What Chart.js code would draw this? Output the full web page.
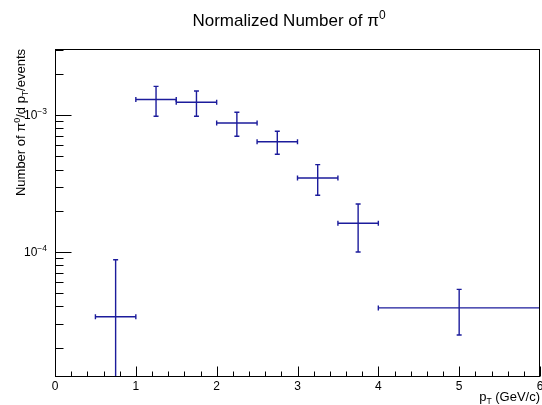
<!DOCTYPE html>
<html lang="en">
<head>
<meta charset="UTF-8" />
<title>Normalized Number of pi0</title>
<style>
  body { margin: 0; background: #fff; }
  .chart-container { width: 542px; height: 405px; position: relative; }
</style>
</head>
<body>
<div class="chart-container"><canvas id="pi0Chart"></canvas></div>
<script src="https://cdn.jsdelivr.net/npm/chart.js@4"></script>
<script>
// pT bins (GeV/c) and normalized pi0 yields
const ptCenters = [0.75, 1.25, 1.75, 2.25, 2.75, 3.25, 3.75, 5.0];
const ptHalfWidths = [0.25, 0.25, 0.25, 0.25, 0.25, 0.25, 0.25, 1.0];
const yields = [3.36e-5, 1.30e-3, 1.24e-3, 8.75e-4, 6.39e-4, 3.47e-4, 1.62e-4, 3.9e-5];
const yieldErrors = [5.4e-5, 3.2e-4, 2.6e-4, 1.75e-4, 1.22e-4, 8.75e-5, 6.2e-5, 1.43e-5];

const xMajorTicks = [0, 1, 2, 3, 4, 5, 6];
const yDecades = [-5, -4, -3];
const yLabelExps = [-4, -3];

const X_MIN = 0, X_MAX = 6;
const Y_MIN = 1.22e-5, Y_MAX = 3.04e-3;
const ERR_COLOR = "#1c1c9c";
const FONT = "'Liberation Sans', Arial, sans-serif";

// draw text pieces with super/subscripts; parts: [text, size, dy]
function richWidth(ctx, parts) {
  let w = 0;
  for (const p of parts) {
    ctx.font = p[1] + "px " + FONT;
    w += ctx.measureText(p[0]).width;
  }
  return w;
}
function drawRich(ctx, parts, x, y, align) {
  let w = richWidth(ctx, parts);
  let cx = x;
  if (align === "right") cx = x - w;
  else if (align === "center") cx = x - w / 2;
  ctx.textAlign = "left";
  ctx.textBaseline = "alphabetic";
  for (const p of parts) {
    ctx.font = p[1] + "px " + FONT;
    ctx.fillText(p[0], cx, y + p[2]);
    cx += ctx.measureText(p[0]).width;
  }
}

const errorBars = {
  id: "errorBars",
  afterDatasetsDraw(chart) {
    const ctx = chart.ctx;
    const xs = chart.scales.x, ys = chart.scales.y;
    const area = chart.chartArea;
    ctx.save();
    ctx.beginPath();
    ctx.rect(area.left, area.top, area.right - area.left, area.bottom - area.top);
    ctx.clip();
    ctx.strokeStyle = ERR_COLOR;
    ctx.lineWidth = 1.4;
    const cap = 2.5;
    for (let i = 0; i < ptCenters.length; i++) {
      const px = xs.getPixelForValue(ptCenters[i]);
      const py = ys.getPixelForValue(yields[i]);
      const xl = xs.getPixelForValue(ptCenters[i] - ptHalfWidths[i]);
      const xr = xs.getPixelForValue(ptCenters[i] + ptHalfWidths[i]);
      const hi = yields[i] + yieldErrors[i];
      const lo = yields[i] - yieldErrors[i];
      const yt = ys.getPixelForValue(hi);
      const yb = lo > 0 ? ys.getPixelForValue(lo) : area.bottom + 5;
      ctx.beginPath();
      ctx.moveTo(xl, py); ctx.lineTo(xr, py);
      ctx.moveTo(xl, py - cap); ctx.lineTo(xl, py + cap);
      ctx.moveTo(xr, py - cap); ctx.lineTo(xr, py + cap);
      ctx.moveTo(px, yt); ctx.lineTo(px, yb);
      ctx.moveTo(px - cap, yt); ctx.lineTo(px + cap, yt);
      if (lo > 0) { ctx.moveTo(px - cap, yb); ctx.lineTo(px + cap, yb); }
      ctx.stroke();
    }
    ctx.restore();
  },
  afterDraw(chart) {
    const ctx = chart.ctx;
    const xs = chart.scales.x, ys = chart.scales.y;
    const a = chart.chartArea;
    const L = Math.round(a.left) + 0.5, R = Math.round(a.right) - 0.5;
    const T = Math.round(a.top) + 0.5, B = Math.round(a.bottom) - 0.5;
    ctx.save();
    ctx.strokeStyle = "#000";
    ctx.fillStyle = "#000";
    ctx.lineWidth = 1;
    ctx.strokeRect(L, T, R - L, B - T);

    // x ticks inside the frame
    ctx.beginPath();
    for (let v = X_MIN; v <= X_MAX + 1e-9; v += 0.2) {
      const major = Math.abs(v - Math.round(v)) < 1e-6;
      const px = Math.round(xs.getPixelForValue(v)) + 0.5;
      ctx.moveTo(px, B);
      ctx.lineTo(px, B - (major ? 10 : 5));
    }
    // y ticks (log) inside the frame
    for (const d of yDecades) {
      for (let m = 1; m <= 9; m++) {
        const v = m * Math.pow(10, d);
        if (v < Y_MIN || v > Y_MAX) continue;
        const py = Math.round(ys.getPixelForValue(v)) + 0.5;
        ctx.moveTo(L, py);
        ctx.lineTo(L + (m === 1 ? 16 : 8), py);
      }
    }
    ctx.stroke();

    // x tick labels
    ctx.font = "12px " + FONT;
    ctx.textAlign = "center";
    ctx.textBaseline = "alphabetic";
    for (const v of xMajorTicks) {
      ctx.fillText(String(v), xs.getPixelForValue(v), 390);
    }
    // y tick labels 10^n
    for (const e of yLabelExps) {
      const py = ys.getPixelForValue(Math.pow(10, e));
      drawRich(ctx, [["10", 12, 0], ["\u2212" + Math.abs(e), 8.5, -5]], 47, py + 4.3, "right");
    }

    // title
    drawRich(ctx, [["Normalized Number of \u03c0", 17, 0], ["0", 12, -7]], 289, 26, "center");

    // x axis title
    drawRich(ctx, [["p", 13, 0], ["T", 8.5, 3], [" (GeV/c)", 13, 0]], 540, 401, "right");

    // y axis title, rotated, aligned to top of frame
    ctx.translate(24.5, 49);
    ctx.rotate(-Math.PI / 2);
    drawRich(ctx, [["Number of \u03c0", 13, 0], ["0", 9, -5], ["/d p", 13, 0], ["T", 8.5, 3], ["/events", 13, 0]], 0, 0, "right");
    ctx.restore();
  }
};

const points = ptCenters.map((x, i) => ({ x: x, y: yields[i] }));

new Chart(document.getElementById("pi0Chart"), {
  type: "scatter",
  data: {
    datasets: [{
      label: "pi0",
      data: points,
      pointRadius: 0,
      pointHoverRadius: 0,
      showLine: false,
      borderColor: ERR_COLOR,
      backgroundColor: ERR_COLOR
    }]
  },
  options: {
    responsive: true,
    maintainAspectRatio: false,
    animation: false,
    layout: { padding: { left: 55, right: 2, top: 49, bottom: 28 } },
    plugins: { legend: { display: false }, tooltip: { enabled: false }, title: { display: false } },
    scales: {
      x: { type: "linear", min: X_MIN, max: X_MAX, display: false },
      y: { type: "logarithmic", min: Y_MIN, max: Y_MAX, display: false }
    }
  },
  plugins: [errorBars]
});
</script>
</body>
</html>
